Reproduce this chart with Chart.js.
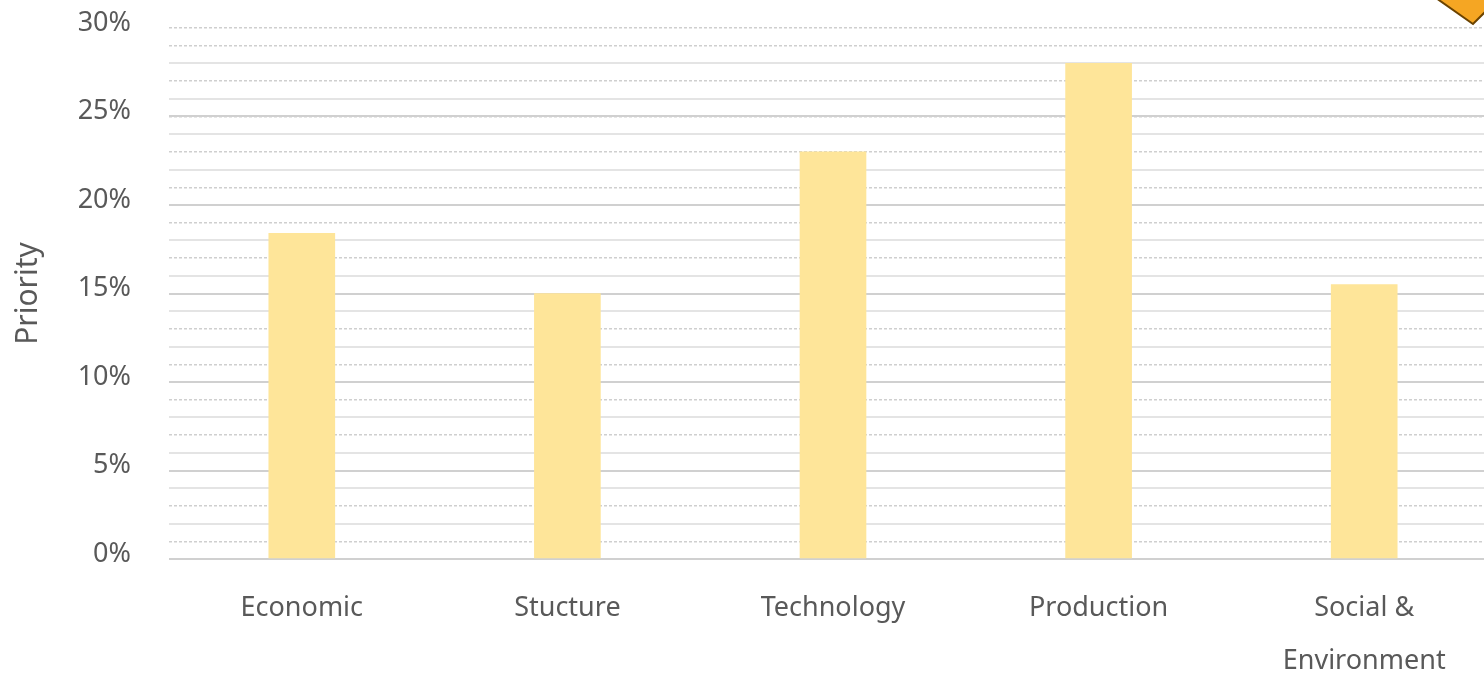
<!DOCTYPE html>
<html>

<head>
    <meta charset='utf-8'>
    <title>Priority</title>
    <script src="https://cdn.jsdelivr.net/npm/chart.js@4.4.0/dist/chart.umd.min.js"></script>
    <style>
        body { margin: 0; overflow: hidden; background: #fff; }
        #wrap { position: relative; width: 1500px; height: 675px; }
        #corner { position: absolute; left: 0; top: 0; }
    </style>
</head>

<body>
    <div id="wrap">
        <canvas id="chart"></canvas>
        <svg id="corner" width="1484" height="675">
            <polygon points="1436,-2 1473,24 1486,11 1486,-2" fill="#f5a623" stroke="#6b4300" stroke-width="2" />
        </svg>
    </div>
    <script>
        var categories = ['Economic', 'Stucture', 'Technology', 'Production', ['Social &', 'Environment']];
        var priority = [18.4, 15.0, 23.0, 28.0, 15.5]; // percent
        var yMin = 0, yMax = 30;

        var textColor = '#595959';
        var font = 'Noto Sans';

        var ctx = document.getElementById('chart').getContext('2d');
        var chart = new Chart(ctx, {
            type: 'bar',
            data: {
                labels: categories,
                datasets: [{
                    label: 'Priority',
                    data: priority,
                    backgroundColor: '#fee599',
                    barThickness: 66,
                    yAxisID: 'y'
                }]
            },
            options: {
                responsive: true,
                maintainAspectRatio: false,
                animation: false,
                layout: { padding: { top: 28, right: 3, left: 0, bottom: 0 } },
                plugins: {
                    legend: { display: false },
                    tooltip: { enabled: false }
                },
                scales: {
                    x: {
                        afterFit: function (s) { s.height = 116; },
                        grid: { display: false },
                        border: { display: false },
                        ticks: {
                            color: textColor,
                            font: { family: font, size: 27, lineHeight: 1.96 },
                            padding: 15,
                            maxRotation: 0,
                            autoSkip: false
                        }
                    },
                    // dashed lines at odd percentages
                    y2: {
                        position: 'left',
                        min: yMin, max: yMax,
                        afterFit: function (s) { s.width = 0; },
                        ticks: { stepSize: 1, display: false, autoSkip: false },
                        border: { display: false, dash: [3, 2] },
                        grid: {
                            drawTicks: false,
                            lineWidth: 1.5,
                            color: function (c) {
                                var v = c.tick.value;
                                return (v % 2 === 1 || v === 30) ? '#cfcfcf' : 'rgba(0,0,0,0)';
                            }
                        }
                    },
                    y: {
                        position: 'left',
                        min: yMin, max: yMax,
                        afterFit: function (s) { s.width = 169; },
                        title: {
                            display: true,
                            text: 'Priority',
                            color: textColor,
                            font: { family: font, size: 30 },
                            padding: { top: 10, bottom: 0 }
                        },
                        ticks: {
                            stepSize: 1,
                            autoSkip: false,
                            color: textColor,
                            font: { family: font, size: 27 },
                            padding: 4,
                            labelOffset: -5,
                            callback: function (v) { return v % 5 === 0 ? v + '%' : ''; }
                        },
                        border: { display: false },
                        grid: {
                            drawTicks: true,
                            tickLength: 34,
                            tickColor: 'rgba(0,0,0,0)',
                            lineWidth: 2,
                            color: function (c) {
                                var v = c.tick.value;
                                if (v === 30) return 'rgba(0,0,0,0)';
                                if (v % 5 === 0) return '#d0d0d0';
                                if (v % 2 === 0) return '#e4e4e4';
                                return 'rgba(0,0,0,0)';
                            }
                        }
                    }
                }
            }
        });
    </script>
</body>

</html>
